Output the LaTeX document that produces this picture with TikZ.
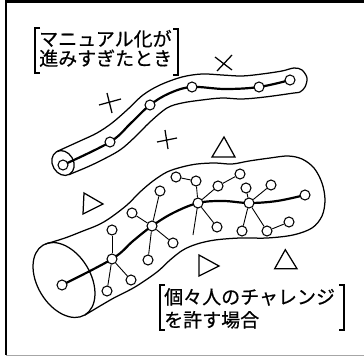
\documentclass[tikz,border=0pt]{standalone}
\usepackage{fontspec}
\newfontfamily\jp[FakeBold=0.5]{Noto Sans CJK JP}
\pgfdeclarelayer{bg}
\pgfsetlayers{bg,main}
\begin{document}
\begin{tikzpicture}[x=1pt,y=-1pt,
  outline/.style={line width=1.25pt, line join=round},
  spine/.style={line width=2.2pt, line cap=round},
  spoke/.style={line width=0.9pt},
  dot/.style={circle, draw, fill=white, line width=1.05pt, minimum size=10pt, inner sep=0pt},
  sym/.style={line width=1.25pt, line join=miter},
  brk/.style={line width=1.3pt},
  lbl/.style={anchor=base west, inner sep=0pt, font=\jp\fontsize{19}{19}\selectfont}
]
\useasboundingbox (0,0) rectangle (364,356);
% frame
\fill (5,0) rectangle (364,3);
\draw[line width=1.5pt] (6,3) -- (6,355);
\draw[black!35, line width=0.8pt] (6,355) -- (364,355);

% ---------- upper tube ----------
\node[dot] (u0) at (63,165) {};
\node[dot] (u1) at (110,142) {};
\node[dot] (u2) at (150,105) {};
\node[dot] (u3) at (192,87) {};
\node[dot] (u4) at (259,87) {};
\node[dot] (u5) at (290,80) {};

% ---------- lower tube nodes ----------
\node[dot] (l0) at (62,285) {};
\node[dot] (h1) at (112,259) {};
\node[dot] (h2) at (152,226) {};
\node[dot] (h3) at (198,203) {};
\node[dot] (h4) at (249,203) {};
\node[dot] (l5) at (305,195) {};
\node[dot] (a1) at (112,230) {};
\node[dot] (a2) at (107,291) {};
\node[dot] (a3) at (131,280) {};
\node[dot] (b1) at (160,191) {};
\node[dot] (b2) at (132,213) {};
\node[dot] (b3) at (173,243) {};
\node[dot] (b4) at (148,260) {};
\node[dot] (c1) at (196,181) {};
\node[dot] (c1b) at (176,177) {};
\node[dot] (c2) at (218,186) {};
\node[dot] (c2b) at (240,174) {};
\node[dot] (c3) at (217,227) {};
\coordinate (c4) at (193,235);
\node[dot] (d1) at (246,188) {};
\node[dot] (d2) at (271,185) {};
\node[dot] (d3) at (242,231) {};
\node[dot] (d4) at (267,231) {};
\node[dot] (d4b) at (289,222) {};

\begin{pgfonlayer}{bg}
  % upper tube end
  \draw[outline, rotate around={-60:(63,163)}] (63,163) ellipse [x radius=13pt, y radius=10.5pt];
  \draw[outline] plot[smooth, tension=0.55] coordinates {
    (57.3,151.3) (80,141) (97,133) (112,123) (127,110) (143,95) (160,85) (182,77)
    (202,74) (222,75) (242,76) (262,74) (282,71) (294,68) (302,70) (307,78)
    (305,87) (300,92) (294,93) (265,97) (242,99) (222,98) (202,100) (182,103)
    (167,108) (150,122) (135,137) (120,150) (100,161) (85,168) (68.7,174.7)};
  \draw[spine] plot[smooth, tension=0.6] coordinates {
    (u0.center) (u1.center) (131,123) (u2.center) (170,93) (u3.center) (225,89)
    (u4.center) (u5.center)};

  % lower tube
  \draw[outline, rotate around={-59:(64,280)}] (64,280) ellipse [x radius=40.7pt, y radius=26.6pt];
  \draw[outline] plot[smooth, tension=0.55] coordinates {
    (45.5,244) (65,238) (83,231) (98,225) (110,218) (127,205) (140,192) (153,181)
    (167,172) (182,167) (197,164) (215,163) (232,164) (249,161) (270,158) (288,156)
    (302,159) (314,168) (322,183) (325,200) (322,216) (312,228) (293,235) (267,238)
    (240,238) (215,240) (197,244) (183,250) (170,260) (157,272) (135,287) (112,299)
    (85,315)};
  \draw[spine] plot[smooth, tension=0.6] coordinates {
    (l0.center) (h1.center) (133,241) (h2.center) (173,213) (h3.center) (223,201)
    (h4.center) (277,201) (l5.center)};
  % spokes
  \draw[spoke] (h1) -- (a1);
  \draw[spoke] (h1) -- (a2);
  \draw[spoke] (h1) -- (a3);
  \draw[spoke] (h2) -- (b1);
  \draw[spoke] (h2) -- (b2);
  \draw[spoke] (h2) -- (b3);
  \draw[spoke] (h2) -- (b4);
  \draw[spoke] (h3) -- (c1);
  \draw[spoke] (c1) -- (c1b);
  \draw[spoke] (h3) -- (c2);
  \draw[spoke] (c2) -- (c2b);
  \draw[spoke] (h3) -- (c3);
  \draw[spoke] (h3.center) -- (c4);
  \draw[spoke] (h4) -- (d1);
  \draw[spoke] (h4) -- (d2);
  \draw[spoke] (h4) -- (d3);
  \draw[spoke] (h4) -- (d4);
  \draw[spoke] (d4) -- (d4b);
\end{pgfonlayer}

% crosses
\draw[sym] (215,57) -- (232,70) (232,55) -- (217,71);
\draw[sym] (99,105) -- (121,99) (107,93) -- (112,113);
\draw[sym] (157,142) -- (177,138) (165,130) -- (168,149);
% triangles
\draw[sym] (212,157) -- (235,157) -- (224,137) -- cycle;
\draw[sym] (84,193) -- (83,214) -- (103,204) -- cycle;
\draw[sym] (199,255) -- (199,276) -- (219,266) -- cycle;
\draw[sym] (274.7,268.7) -- (297,268.7) -- (285.3,249.7) -- cycle;

% labels
\node[lbl] (t1) at (39,46) {マニュアル化が};
\node[lbl] (t2) at (39,65.5) {進みすぎたとき};
\node[lbl] (s1) at (164,304) {個々人のチャレンジ};
\node[lbl] (s2) at (164,327) {を許す場合};
% brackets
\draw[brk] (40,28) -- (35,28) -- (35,73) -- (40,73);
\draw[brk] (173,29) -- (178,29) -- (178,75) -- (173,75);
\draw[brk] (165,285) -- (160,285) -- (160,330) -- (165,330);
\draw[brk] (339,285) -- (344,285) -- (344,330) -- (339,330);
\end{tikzpicture}
\end{document}
